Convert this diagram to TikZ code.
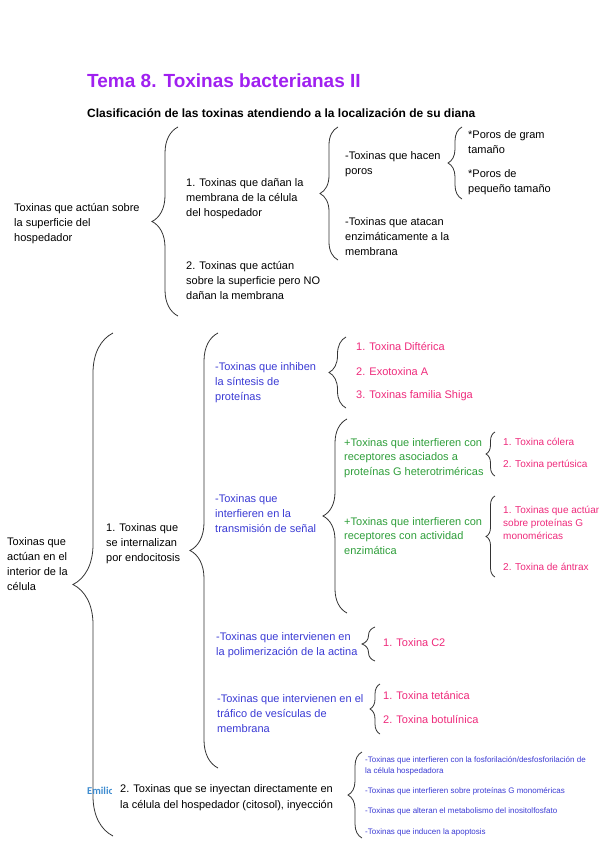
\documentclass[tikz,border=0pt]{standalone}
\usepackage{fontspec}
\setmainfont{Liberation Sans}
\newfontfamily\wmfont{Carlito}
\usetikzlibrary{decorations.pathreplacing}
\definecolor{titlepurple}{HTML}{A020F0}
\definecolor{tblue}{HTML}{3A3AD4}
\definecolor{tpink}{HTML}{EE2A7B}
\definecolor{tgreen}{HTML}{2E9E3A}
\definecolor{wmblue}{HTML}{3D8BCF}
\definecolor{bracegray}{HTML}{333333}
\tikzset{
  txt/.style={anchor=west, inner sep=0pt, align=left, font=\fontsize{11}{15}\selectfont},
  bluetxt/.style={txt, text=tblue},
  pinktxt/.style={txt, text=tpink},
  smallpink/.style={txt, text=tpink, font=\fontsize{10}{13}\selectfont},
  greentxt/.style={txt, text=tgreen, font=\fontsize{11}{14.5}\selectfont},
  tinyblue/.style={txt, text=tblue, font=\fontsize{8}{11}\selectfont},
  brc/.style={draw=bracegray, line width=0.8pt, decorate, decoration={brace, amplitude=#1}},
}
\begin{document}
\begin{tikzpicture}[x=1pt,y=-1pt]
\useasboundingbox (0,0) rectangle (599,848);
% titles
\node[anchor=west, inner sep=0pt, text=titlepurple, font=\fontsize{19}{21}\selectfont\bfseries] (title) at (87,81) {Tema 8. Toxinas bacterianas II};
\node[anchor=west, inner sep=0pt, font=\fontsize{12}{13}\selectfont\bfseries] (subtitle) at (87,113) {Clasificación de las toxinas atendiendo a la localización de su diana};
% section 1
\node[txt] (s1) at (14,224) {Toxinas que actúan sobre\\la superficie del\\hospedador};
\draw[brc=26] (178,316) -- (178,127);
\node[txt] (s11) at (186,199) {1. Toxinas que dañan la\\membrana de la célula\\del hospedador};
\node[txt] (s12) at (186,281) {2. Toxinas que actúan\\sobre la superficie pero NO\\dañan la membrana};
\draw[brc=18] (338,260) -- (338,127);
\node[txt] (s111) at (345,164.5) {-Toxinas que hacen\\poros};
\node[txt] (s112) at (345,237) {-Toxinas que atacan\\enzimáticamente a la\\membrana};
\draw[brc=14] (462,199) -- (462,127);
\node[txt] (s1111) at (468,142.5) {*Poros de gram\\tamaño};
\node[txt] (s1112) at (468,182.5) {*Poros de\\pequeño tamaño};
% section 2
\node[txt] (s2) at (7,564) {Toxinas que\\actúan en el\\interior de la\\célula};
\draw[brc=40] (113,836) -- (113,333);
\node[txt] (s21) at (106,544) {1. Toxinas que\\se internalizan\\por endocitosis};
\draw[brc=28] (218,768) -- (218,333);
% inhibit synthesis
\node[bluetxt] (a) at (215,383) {-Toxinas que inhiben\\la síntesis de\\proteínas};
\draw[brc=17] (346,408) -- (346,337);
\node[pinktxt] (a1) at (356,347) {1. Toxina Diftérica};
\node[pinktxt] (a2) at (356,372) {2. Exotoxina A};
\node[pinktxt] (a3) at (356,396) {3. Toxinas familia Shiga};
% signal
\node[bluetxt] (b) at (215,514) {-Toxinas que\\interfieren en la\\transmisión de señal};
\draw[brc=24] (347,613) -- (347,419);
\node[greentxt] (b1) at (344,458) {+Toxinas que interfieren con\\receptores asociados a\\proteínas G heterotriméricas};
\draw[brc=9] (495,476) -- (495,432);
\node[smallpink] (b11) at (503,442) {1. Toxina cólera};
\node[smallpink] (b12) at (503,465) {2. Toxina pertúsica};
\node[greentxt] (b2) at (344,536) {+Toxinas que interfieren con\\receptores con actividad\\enzimática};
\draw[brc=9] (495,577) -- (495,496);
\node[smallpink] (b21) at (503,523) {1. Toxinas que actúan\\sobre proteínas G\\monoméricas};
\node[smallpink] (b22) at (503,567) {2. Toxina de ántrax};
% actin
\node[bluetxt] (c) at (216,645.5) {-Toxinas que intervienen en\\la polimerización de la actina};
\draw[brc=13] (375,661) -- (375,627);
\node[pinktxt] (c1) at (383,643) {1. Toxina C2};
% vesicles
\node[bluetxt] (d) at (217,714) {-Toxinas que intervienen en el\\tráfico de vesículas de\\membrana};
\draw[brc=10] (380,734) -- (380,684);
\node[pinktxt] (d1) at (383,695) {1. Toxina tetánica};
\node[pinktxt] (d2) at (383,719) {2. Toxina botulínica};
% injection
\begin{scope}
\clip (80,780) rectangle (111.5,802);
\node[anchor=west, inner sep=0pt, text=wmblue, font=\wmfont\fontsize{10.5}{11}\selectfont\bfseries] (wm) at (87,791) {Emilio};
\end{scope}
\node[txt, font=\fontsize{11}{16}\selectfont] (s22) at (120,798) {2. Toxinas que se inyectan directamente en\\la célula del hospedador (citosol), inyección};
\draw[brc=14] (362,838) -- (362,752);
\node[tinyblue] (e1) at (365,765.5) {-Toxinas que interfieren con la fosforilación/desfosforilación de\\la célula hospedadora};
\node[tinyblue] (e2) at (365,791) {-Toxinas que interfieren sobre proteínas G monoméricas};
\node[tinyblue] (e3) at (365,811) {-Toxinas que alteran el metabolismo del inositolfosfato};
\node[tinyblue] (e4) at (365,832) {-Toxinas que inducen la apoptosis};
\end{tikzpicture}
\end{document}
